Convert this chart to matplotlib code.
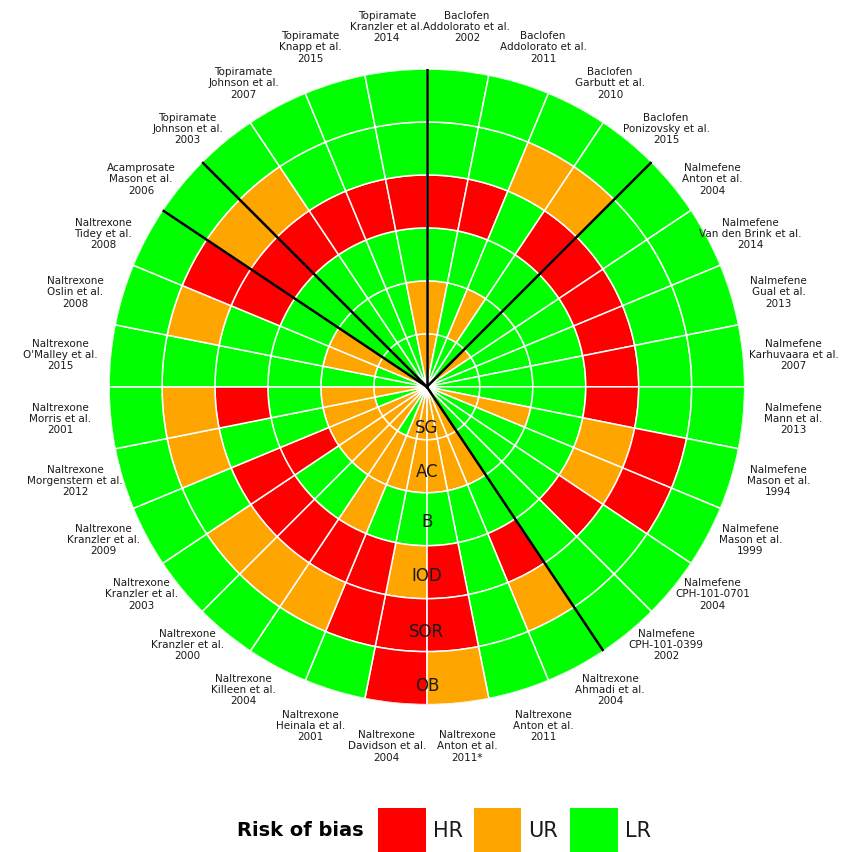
import numpy as np
import matplotlib.pyplot as plt
from matplotlib.patches import Rectangle

# studies, clockwise from 12 o'clock
drugs = ["Baclofen"] * 4 + ["Nalmefene"] * 9 + ["Naltrexone"] * 14 + ["Acamprosate"] + ["Topiramate"] * 4
authors = ["Addolorato et al.", "Addolorato et al.", "Garbutt et al.", "Ponizovsky et al.",
           "Anton et al.", "Van den Brink et al.", "Gual et al.", "Karhuvaara et al.",
           "Mann et al.", "Mason et al.", "Mason et al.", "CPH-101-0701", "CPH-101-0399",
           "Ahmadi et al.", "Anton et al.", "Anton et al.", "Davidson et al.", "Heinala et al.",
           "Killeen et al.", "Kranzler et al.", "Kranzler et al.", "Kranzler et al.",
           "Morgenstern et al.", "Morris et al.", "O'Malley et al.", "Oslin et al.",
           "Tidey et al.", "Mason et al.", "Johnson et al.", "Johnson et al.", "Knapp et al.",
           "Kranzler et al."]
years = ["2002", "2011", "2010", "2015",
         "2004", "2014", "2013", "2007", "2013", "1994", "1999", "2004", "2002",
         "2004", "2011", "2011*", "2004", "2001", "2004", "2000", "2003", "2009",
         "2012", "2001", "2015", "2008", "2008",
         "2006",
         "2003", "2007", "2015", "2014"]
group_sizes = [4, 9, 14, 1, 4]

# risk of bias per domain (inner ring -> outer ring)
domains = ["SG", "AC", "B", "IOD", "SOR", "OB"]
sg = ["UR", "LR", "LR", "LR", "UR", "LR", "LR", "LR",
      "LR", "UR", "LR", "LR", "LR", "UR", "UR", "UR",
      "UR", "UR", "LR", "UR", "UR", "UR", "LR", "UR",
      "LR", "LR", "UR", "LR", "LR", "LR", "LR", "UR"]
ac = ["UR", "LR", "UR", "LR", "LR", "LR", "LR", "LR",
      "LR", "UR", "LR", "LR", "LR", "UR", "UR", "UR",
      "UR", "UR", "UR", "UR", "UR", "UR", "UR", "UR",
      "LR", "UR", "UR", "LR", "LR", "LR", "LR", "UR"]
blind = ["LR", "LR", "LR", "LR", "LR", "LR", "LR", "LR",
         "LR", "LR", "LR", "LR", "LR", "LR", "LR", "LR",
         "LR", "LR", "UR", "LR", "LR", "HR", "LR", "LR",
         "LR", "LR", "LR", "LR", "LR", "LR", "LR", "LR"]
iod = ["HR", "HR", "LR", "HR", "HR", "HR", "HR", "HR",
       "HR", "UR", "UR", "HR", "LR", "HR", "LR", "HR",
       "UR", "HR", "HR", "HR", "HR", "HR", "LR", "HR",
       "LR", "LR", "HR", "HR", "HR", "HR", "HR", "HR"]
sor = ["LR", "LR", "UR", "UR", "LR", "LR", "LR", "LR",
       "LR", "HR", "HR", "LR", "LR", "UR", "LR", "HR",
       "HR", "HR", "UR", "UR", "UR", "LR", "UR", "UR",
       "LR", "UR", "HR", "UR", "UR", "LR", "LR", "LR"]
ob = ["LR", "LR", "LR", "LR", "LR", "LR", "LR", "LR",
      "LR", "LR", "LR", "LR", "LR", "LR", "LR", "UR",
      "HR", "LR", "LR", "LR", "LR", "LR", "LR", "LR",
      "LR", "LR", "LR", "LR", "LR", "LR", "LR", "LR"]
rings = [sg, ac, blind, iod, sor, ob]

colours = {"HR": "#ff0000", "UR": "#ffa500", "LR": "#00ff00"}
legend_keys = ["HR", "UR", "LR"]

n = len(authors)
width = 2 * np.pi / n
theta = np.arange(n) * width + width / 2

fig = plt.figure(figsize=(8.52, 8.52), dpi=100)
ax = fig.add_axes([0.128, 0.173, 0.746, 0.746], projection="polar")
ax.set_theta_zero_location("N")
ax.set_theta_direction(-1)

for i, ring in enumerate(rings):
    ax.bar(theta, 1, width=width, bottom=i, color=[colours[r] for r in ring],
           edgecolor="white", linewidth=1.1, align="center")

# group separators
bounds = np.cumsum([0] + group_sizes[:-1])
for b in bounds:
    ax.plot([b * width, b * width], [0, len(rings)], color="black", lw=1.8, zorder=5)

# study labels, spread a little towards the sides like the original
for t, d, a, y in zip(theta, drugs, authors, years):
    t_lab = np.arctan2(1.13 * np.sin(t), np.cos(t))
    r_lab = 6.64 + (0.2 + 0.12 * np.sin(t_lab) ** 2) * np.cos(2 * t_lab) ** 2
    ax.text(t_lab, r_lab, f"{d}\n{a}\n{y}", ha="center", va="center", fontsize=7.5,
            linespacing=1.15, color="#1a1a1a", clip_on=False)

# domain labels along the bottom
label_r = [0.77, 1.6, 2.55, 3.58, 4.62, 5.64]
for name, r in zip(domains, label_r):
    ax.text(np.pi, r, name, ha="center", va="center", fontsize=12, color="#1a1a1a")

ax.set_ylim(0, 6)
ax.set_xticks([])
ax.set_yticks([])
ax.grid(False)
ax.spines["polar"].set_visible(False)

# legend
fig.text(0.352, 0.025, "Risk of bias", fontsize=14, fontweight="bold", ha="center", va="center")
box_x = [0.444, 0.556, 0.669]
for bx, key in zip(box_x, legend_keys):
    fig.patches.append(Rectangle((bx, 0.0), 0.056, 0.052, transform=fig.transFigure,
                                 facecolor=colours[key], edgecolor="none"))
    fig.text(bx + 0.064, 0.025, key, fontsize=15, ha="left", va="center", color="#1a1a1a")

fig.savefig("out.png", dpi=100)
